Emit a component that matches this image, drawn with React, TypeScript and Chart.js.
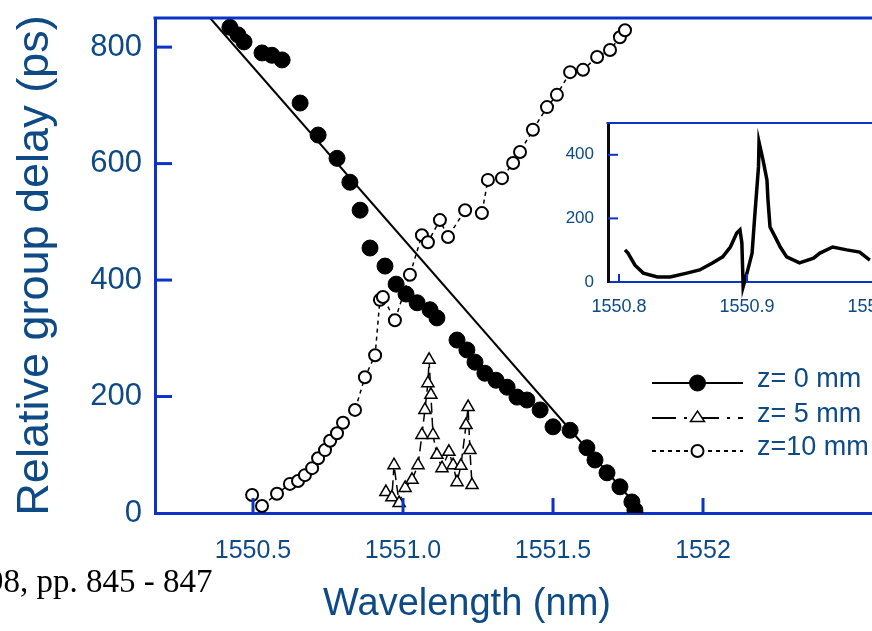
import React, { useEffect, useRef } from 'react';
import { Chart, registerables } from 'chart.js';

Chart.register(...registerables);

// ---------- data ----------
const X_TICKS = [1550.5, 1551.0, 1551.5, 1552.0];
const X_TICK_LABELS = ['1550.5', '1551.0', '1551.5', '1552'];
const Y_TICKS = [0, 200, 400, 600, 800];

const z0Wavelength = [1550.423, 1550.45, 1550.47, 1550.53, 1550.563, 1550.597, 1550.657, 1550.717, 1550.78, 1550.823, 1550.857, 1550.89, 1550.94, 1550.977, 1551.01, 1551.047, 1551.09, 1551.113, 1551.18, 1551.213, 1551.24, 1551.273, 1551.31, 1551.347, 1551.38, 1551.413, 1551.457, 1551.5, 1551.557, 1551.613, 1551.64, 1551.68, 1551.723, 1551.763, 1551.773];
const z0Delay = [834, 821, 809, 790, 786, 778, 704, 649, 609, 568, 520, 455, 424, 393, 376, 361, 349, 335, 297, 280, 259, 240, 228, 216, 199, 194, 177, 148, 142, 112, 91, 69, 45, 19, 5];

const z0FitWavelength = [1550.357, 1551.8];
const z0FitDelay = [850, 0];

const z5Wavelength = [1550.943, 1550.963, 1550.97, 1550.987, 1551.007, 1551.03, 1551.05, 1551.063, 1551.073, 1551.083, 1551.087, 1551.093, 1551.1, 1551.113, 1551.13, 1551.153, 1551.167, 1551.18, 1551.193, 1551.21, 1551.217, 1551.223, 1551.23];
const z5Delay = [36, 27, 82, 17, 43, 57, 82, 134, 177, 223, 263, 203, 134, 100, 77, 105, 82, 53, 81, 151, 182, 108, 48];

const z10Wavelength = [1550.497, 1550.53, 1550.58, 1550.623, 1550.65, 1550.673, 1550.697, 1550.717, 1550.74, 1550.757, 1550.78, 1550.8, 1550.84, 1550.873, 1550.907, 1550.923, 1550.933, 1550.973, 1551.023, 1551.063, 1551.083, 1551.123, 1551.15, 1551.207, 1551.263, 1551.283, 1551.33, 1551.367, 1551.39, 1551.433, 1551.48, 1551.513, 1551.557, 1551.6, 1551.647, 1551.69, 1551.723, 1551.74];
const z10Delay = [31, 12, 33, 50, 55, 65, 77, 94, 108, 124, 137, 155, 177, 233, 271, 366, 371, 331, 409, 477, 465, 503, 474, 520, 515, 572, 575, 601, 620, 658, 697, 718, 757, 761, 783, 795, 817, 829];

const INSET_X_TICKS = [1550.8, 1550.9, 1551.0];
const INSET_X_LABELS = ['1550.8', '1550.9', '1551.0'];
const INSET_Y_TICKS = [0, 200, 400];
const insetWavelength = [1550.8047, 1550.807, 1550.8125, 1550.819, 1550.83, 1550.84, 1550.853, 1550.863, 1550.873, 1550.881, 1550.887, 1550.892, 1550.8945, 1550.896, 1550.897, 1550.9, 1550.904, 1550.906, 1550.909, 1550.9094, 1550.9125, 1550.9156, 1550.9164, 1550.918, 1550.922, 1550.926, 1550.931, 1550.941, 1550.952, 1550.957, 1550.967, 1550.978, 1550.988, 1550.996];
const insetDelay = [101, 91, 53, 28, 16, 16, 28, 38, 60, 79, 110, 154, 164, 123, -15, 28, 91, 204, 362, 440, 384, 321, 258, 173, 142, 110, 79, 60, 75, 91, 110, 101, 94, 69];

// ---------- axis ranges ----------
const X_MIN = 1550.1733;
const X_MAX = 1552.8033;
const Y_MIN = 0;
const Y_MAX = 850;
const INSET_X_MIN = 1550.7914;
const INSET_X_MAX = 1551.0977;
const INSET_Y_MIN = 0;
const INSET_Y_MAX = 500;

// ---------- styles ----------
const FONT = '"Liberation Sans", Arial, Helvetica, sans-serif';
const TEXT = '#0d4a86';
const FRAME = '#0b33c8';
const INK = '#000000';

const zip = (xs: number[], ys: number[]) => xs.map((x, i) => ({ x, y: ys[i] }));

const zeroPad = (s: any) => {
  s.paddingTop = 0;
  s.paddingBottom = 0;
  s.paddingLeft = 0;
  s.paddingRight = 0;
};

function drawMarker(ctx: CanvasRenderingContext2D, style: string, x: number, y: number, r: number, fill: string, stroke: string, lw: number) {
  ctx.save();
  ctx.beginPath();
  if (style === 'triangle') {
    const h = r * 1.5;
    ctx.moveTo(x, y - h * 0.66);
    ctx.lineTo(x + r, y + h * 0.34);
    ctx.lineTo(x - r, y + h * 0.34);
    ctx.closePath();
  } else {
    ctx.arc(x, y, r, 0, Math.PI * 2);
  }
  ctx.fillStyle = fill;
  ctx.fill();
  ctx.lineWidth = lw;
  ctx.strokeStyle = stroke;
  ctx.stroke();
  ctx.restore();
}

const innerTicks = {
  id: 'innerTicks',
  afterDraw(chart: any, _args: any, opts: any) {
    const { ctx, chartArea: a, scales } = chart;
    ctx.save();
    ctx.strokeStyle = opts.color;
    ctx.lineWidth = opts.width;
    const line = (x0: number, y0: number, x1: number, y1: number) => {
      ctx.beginPath();
      ctx.moveTo(x0, y0);
      ctx.lineTo(x1, y1);
      ctx.stroke();
    };
    scales.x.ticks.forEach((t: any) => {
      const px = scales.x.getPixelForValue(t.value);
      line(px, a.bottom, px, a.bottom - opts.xLen);
    });
    scales.y.ticks.forEach((t: any) => {
      if (t.value === scales.y.min) return;
      const py = scales.y.getPixelForValue(t.value);
      line(a.left, py, a.left + opts.yLen, py);
    });
    line(a.left - 1.5, a.top, a.right, a.top);
    ctx.restore();
  },
};

// the x-axis title sits under the visible part of the (cropped) axis
const xTitle = {
  id: 'xTitle',
  afterDraw(chart: any, _args: any, opts: any) {
    const { ctx, chartArea } = chart;
    const t = chart.options.scales.x.title;
    ctx.save();
    ctx.fillStyle = t.color;
    ctx.font = `${t.font.size}px ${t.font.family}`;
    ctx.textAlign = 'center';
    ctx.textBaseline = 'middle';
    ctx.fillText(t.text, chartArea.left + opts.dx, chartArea.bottom + opts.dy);
    ctx.restore();
  },
};

const paperLegend = {
  id: 'paperLegend',
  afterDraw(chart: any, _args: any, opts: any) {
    const { ctx, chartArea } = chart;
    ctx.save();
    chart.data.datasets
      .filter((d: any) => d.legendRow !== undefined)
      .forEach((ds: any) => {
        const y = chartArea.top + opts.rowY[ds.legendRow];
        const x0 = chartArea.left + opts.lineStart;
        const x1 = chartArea.left + opts.lineEnd;
        ctx.strokeStyle = INK;
        ctx.lineWidth = opts.lineWidth;
        ctx.setLineDash(ds.legendDash || []);
        ctx.beginPath();
        ctx.moveTo(x0, y);
        ctx.lineTo(x1, y);
        ctx.stroke();
        ctx.setLineDash([]);
        drawMarker(ctx, ds.pointStyle, (x0 + x1) / 2, y, ds.pointRadius, ds.pointBackgroundColor, ds.pointBorderColor, ds.pointBorderWidth);
        ctx.fillStyle = opts.color;
        ctx.font = opts.font;
        ctx.textBaseline = 'middle';
        ctx.textAlign = 'left';
        ctx.fillText(ds.label, chartArea.left + opts.textX, y + opts.textDy);
      });
    ctx.restore();
  },
};

export default function App() {
  const mainRef = useRef<HTMLCanvasElement>(null);
  const insetRef = useRef<HTMLCanvasElement>(null);

  useEffect(() => {
    const main = new Chart(mainRef.current as HTMLCanvasElement, {
      type: 'scatter',
      data: {
        datasets: [
          {
            label: 'z= 0 mm',
            data: zip(z0Wavelength, z0Delay),
            showLine: false,
            pointStyle: 'circle',
            pointRadius: 8,
            pointBackgroundColor: INK,
            pointBorderColor: INK,
            pointBorderWidth: 1,
            legendRow: 0,
            legendDash: [],
          } as any,
          {
            label: 'z= 0 mm fit',
            data: zip(z0FitWavelength, z0FitDelay),
            showLine: true,
            borderColor: INK,
            borderWidth: 2,
            pointRadius: 0,
          } as any,
          {
            label: 'z=10 mm',
            data: zip(z10Wavelength, z10Delay),
            showLine: true,
            borderColor: INK,
            borderWidth: 1.5,
            borderDash: [4, 4],
            pointStyle: 'circle',
            pointRadius: 6,
            pointBackgroundColor: '#ffffff',
            pointBorderColor: INK,
            pointBorderWidth: 2,
            legendRow: 2,
            legendDash: [4, 4],
          } as any,
          {
            label: 'z= 5 mm',
            data: zip(z5Wavelength, z5Delay),
            showLine: true,
            borderColor: INK,
            borderWidth: 1.5,
            borderDash: [10, 5],
            pointStyle: 'triangle',
            pointRadius: 7,
            pointBackgroundColor: '#ffffff',
            pointBorderColor: INK,
            pointBorderWidth: 1.5,
            legendRow: 1,
            legendDash: [24, 8, 3, 8],
          } as any,
        ],
      },
      options: {
        animation: false,
        responsive: false,
        events: [],
        layout: { padding: { left: 0, top: 18, right: 56, bottom: 0 } },
        plugins: {
          legend: { display: false },
          tooltip: { enabled: false },
          innerTicks: { color: FRAME, width: 3, xLen: 15, yLen: 17 },
          xTitle: { dx: 312, dy: 92 },
          paperLegend: {
            rowY: [365, 400, 433],
            lineStart: 497,
            lineEnd: 588,
            textX: 602,
            textDy: -3,
            lineWidth: 2,
            color: TEXT,
            font: `27px ${FONT}`,
          },
        } as any,
        scales: {
          x: {
            type: 'linear',
            min: X_MIN,
            max: X_MAX,
            afterBuildTicks: (s: any) => {
              s.ticks = X_TICKS.map((v) => ({ value: v }));
            },
            afterFit: (s: any) => {
              s.height = 118;
              zeroPad(s);
            },
            grid: { display: false, drawTicks: false },
            border: { display: true, color: FRAME, width: 3 },
            ticks: {
              color: TEXT,
              font: { family: FONT, size: 25 },
              padding: 23,
              maxRotation: 0,
              minRotation: 0,
              autoSkip: false,
              callback: (v: any) => {
                const i = X_TICKS.indexOf(Number(v));
                return i >= 0 ? X_TICK_LABELS[i] : '';
              },
            },
            title: {
              display: false,
              text: 'Wavelength (nm)',
              color: TEXT,
              font: { family: FONT, size: 38 },
            },
          },
          y: {
            type: 'linear',
            min: Y_MIN,
            max: Y_MAX,
            afterBuildTicks: (s: any) => {
              s.ticks = Y_TICKS.map((v) => ({ value: v }));
            },
            afterFit: (s: any) => {
              s.width = 155;
              zeroPad(s);
            },
            grid: { display: false, drawTicks: false },
            border: { display: true, color: FRAME, width: 3 },
            ticks: {
              color: TEXT,
              font: { family: FONT, size: 31 },
              padding: 13,
              autoSkip: false,
              callback: (v: any) => String(v),
            },
            title: {
              display: true,
              text: 'Relative group delay (ps)',
              color: TEXT,
              font: { family: FONT, size: 45 },
              padding: { top: 9, bottom: 0 },
            },
          },
        },
      },
      plugins: [innerTicks, xTitle, paperLegend],
    } as any);

    const inset = new Chart(insetRef.current as HTMLCanvasElement, {
      type: 'scatter',
      data: {
        datasets: [
          {
            label: 'inset',
            data: zip(insetWavelength, insetDelay),
            showLine: true,
            borderColor: INK,
            borderWidth: 3.5,
            pointRadius: 0,
            clip: false,
          } as any,
        ],
      },
      options: {
        animation: false,
        responsive: false,
        events: [],
        layout: { padding: { left: 0, top: 23, right: 0, bottom: 0 } },
        plugins: {
          legend: { display: false },
          tooltip: { enabled: false },
          innerTicks: { color: FRAME, width: 2, xLen: 8, yLen: 10 },
        } as any,
        scales: {
          x: {
            type: 'linear',
            min: INSET_X_MIN,
            max: INSET_X_MAX,
            afterBuildTicks: (s: any) => {
              s.ticks = INSET_X_TICKS.map((v) => ({ value: v }));
            },
            afterFit: (s: any) => {
              s.height = 48;
              zeroPad(s);
            },
            grid: { display: false, drawTicks: false },
            border: { display: true, color: FRAME, width: 2 },
            ticks: {
              color: TEXT,
              font: { family: FONT, size: 18 },
              padding: 14,
              maxRotation: 0,
              minRotation: 0,
              autoSkip: false,
              callback: (v: any) => {
                const i = INSET_X_TICKS.indexOf(Number(v));
                return i >= 0 ? INSET_X_LABELS[i] : '';
              },
            },
          },
          y: {
            type: 'linear',
            min: INSET_Y_MIN,
            max: INSET_Y_MAX,
            afterBuildTicks: (s: any) => {
              s.ticks = INSET_Y_TICKS.map((v) => ({ value: v }));
            },
            afterFit: (s: any) => {
              s.width = 68;
              zeroPad(s);
            },
            grid: { display: false, drawTicks: false },
            border: { display: true, color: '#0a0a0a', width: 3 },
            ticks: {
              color: TEXT,
              font: { family: FONT, size: 17 },
              padding: 14,
              autoSkip: false,
              callback: (v: any) => String(v),
            },
          },
        },
      },
      plugins: [innerTicks],
    } as any);

    return () => {
      main.destroy();
      inset.destroy();
    };
  }, []);

  return (
    <div
      style={{
        position: 'fixed',
        left: 0,
        top: 0,
        width: 872,
        height: 631,
        overflow: 'hidden',
        background: '#ffffff',
      }}
    >
      <canvas
        ref={mainRef}
        width={1000}
        height={631}
        style={{ position: 'absolute', left: 0, top: 0, width: 1000, height: 631 }}
      />
      <canvas
        ref={insetRef}
        width={460}
        height={230}
        style={{ position: 'absolute', left: 540, top: 100, width: 460, height: 230 }}
      />
      <div
        style={{
          position: 'absolute',
          left: -13,
          top: 565,
          fontFamily: '"Liberation Serif", "Times New Roman", serif',
          fontSize: 33,
          lineHeight: '33px',
          whiteSpace: 'nowrap',
          color: '#000000',
        }}
      >
        98, pp. 845 - 847
      </div>
    </div>
  );
}
